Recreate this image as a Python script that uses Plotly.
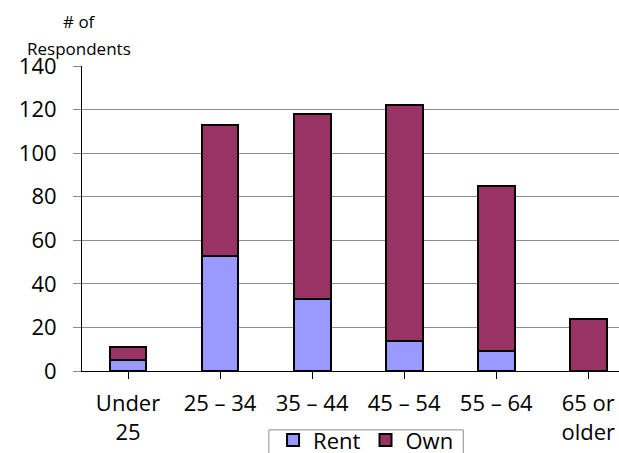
import plotly.graph_objects as go

# Respondents by age group and housing tenure
categories = ["Under<br>25", "25 – 34", "35 – 44", "45 – 54", "55 – 64", "65 or<br>older"]
rent = [5, 53, 33, 14, 9, 0]
own = [6, 60, 85, 108, 76, 24]

RENT_COLOR = "#9999FF"
OWN_COLOR = "#993366"
GRID = "#8c8c8c"
FONT = "Open Sans"

x_pos = list(range(len(categories)))

fig = go.Figure()
fig.add_trace(go.Bar(
    x=x_pos, y=rent, name="Rent", width=0.4,
    marker=dict(color=RENT_COLOR, line=dict(color="black", width=2)),
))
fig.add_trace(go.Bar(
    x=x_pos, y=own, name="Own", width=0.4,
    marker=dict(color=OWN_COLOR, line=dict(color="black", width=2)),
))

fig.update_layout(
    width=619, height=453,
    barmode="stack",
    plot_bgcolor="white", paper_bgcolor="white",
    margin=dict(l=82, r=0, t=66, b=82, autoexpand=False),
    font=dict(family=FONT, size=22, color="black"),
    showlegend=True,
    legend=dict(
        orientation="h", x=0.529, xanchor="center", y=-0.158, yanchor="top",
        borderwidth=0, bgcolor="rgba(0,0,0,0)", font=dict(size=22),
        itemwidth=30, traceorder="normal",
    ),
    xaxis=dict(
        tickmode="array", tickvals=x_pos, ticktext=categories,
        range=[-0.5, 5.334],
        showline=True, linecolor="black", linewidth=1,
        ticks="outside", tickson="boundaries", ticklen=7, tickcolor="black",
        showgrid=False, zeroline=False, fixedrange=True,
        ticklabelstandoff=6,
    ),
    yaxis=dict(
        range=[0, 140], dtick=20,
        showline=True, linecolor="black", linewidth=1,
        ticks="outside", ticklen=8, tickcolor=GRID,
        showgrid=True, gridcolor=GRID, gridwidth=1,
        zeroline=False, fixedrange=True,
        ticklabelstandoff=12,
    ),
    # legend frame
    shapes=[
        dict(type="rect", xref="paper", yref="paper",
             x0=0.348, x1=0.710, y0=-0.193, y1=-0.30,
             line=dict(color=GRID, width=1), fillcolor="rgba(0,0,0,0)",
             layer="below"),
    ],
    annotations=[
        dict(text="# of", xref="paper", yref="paper", x=-0.005, y=1.0,
             yshift=45, showarrow=False, xanchor="center", yanchor="middle",
             font=dict(size=17)),
        dict(text="Respondents", xref="paper", yref="paper", x=-0.005, y=1.0,
             yshift=18, showarrow=False, xanchor="center", yanchor="middle",
             font=dict(size=17)),
    ],
)

fig.write_html("out.html", config={"displayModeBar": False})
